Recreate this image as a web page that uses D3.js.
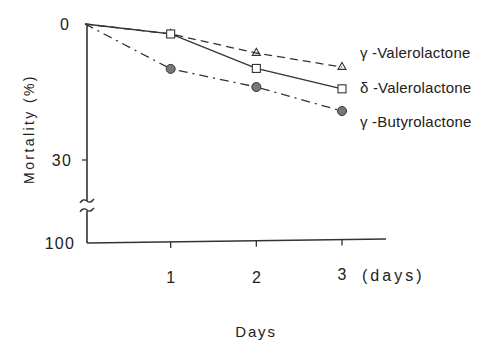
<!DOCTYPE html>
<html><head><meta charset="utf-8">
<script src="https://cdn.jsdelivr.net/npm/d3@7"></script>
<style>body{margin:0;background:#fff;overflow:hidden}svg{display:block}text{font-family:"Liberation Sans",Arial,sans-serif;fill:#222}</style>
</head><body>
<svg id="c" width="478" height="340"></svg>
<script>
const days = [0, 1, 2, 3];
const gammaValero = [0, 2.2, 6.4, 9.5];
const deltaValero = [0, 2.2, 9.8, 14.3];
const gammaButyro = [0, 9.9, 13.9, 19.2];
const seriesNames = ["γ -Valerolactone", "δ -Valerolactone", "γ -Butyrolactone"];
const yTicks = [0, 30, 100];
const xTicks = [1, 2, 3];

const svg = d3.select("#c");
const x = d3.scaleLinear().domain([0, 3]).range([85, 342]);
const y = d3.scaleLinear().domain([0, 30, 100]).range([24, 160, 243]);
const ink = "#333";

// y axis (broken)
svg.append("line").attr("x1", 87).attr("x2", 87).attr("y1", y(0)).attr("y2", 201).attr("stroke", ink).attr("stroke-width", 1.6);
svg.append("line").attr("x1", 87).attr("x2", 87).attr("y1", 211).attr("y2", y(100)).attr("stroke", ink).attr("stroke-width", 1.6);
[202, 211].forEach(yy => {
  svg.append("path").attr("d", `M80,${yy+1} q3,-5 7,-2 q3,3 7,-2`).attr("fill", "none").attr("stroke", ink).attr("stroke-width", 1.4);
});
// x axis
svg.append("line").attr("x1", 87).attr("x2", 386).attr("y1", y(100)).attr("y2", y(100) - 4).attr("stroke", ink).attr("stroke-width", 1.6);
xTicks.forEach(d => {
  const yy = y(100) - (x(d) - 87) * 4 / 299;
  svg.append("line").attr("x1", x(d)).attr("x2", x(d)).attr("y1", yy).attr("y2", yy + 6).attr("stroke", ink).attr("stroke-width", 1.3);
  svg.append("text").attr("x", x(d)).attr("y", d === 3 ? 280 : 283).attr("text-anchor", "middle").attr("font-size", 16).text(d);
});
svg.append("text").attr("x", 362).attr("y", 281).attr("font-size", 16).attr("letter-spacing", 3).text("(days)");
svg.append("text").attr("x", 256).attr("y", 337).attr("text-anchor", "middle").attr("font-size", 15).attr("letter-spacing", 1.8).text("Days");

// y ticks & labels
svg.append("line").attr("x1", 82).attr("x2", 87).attr("y1", y(30)).attr("y2", y(30)).attr("stroke", ink).attr("stroke-width", 1.3);
const yLabX = {0: 70, 30: 72, 100: 75};
yTicks.forEach(d => {
  svg.append("text").attr("x", yLabX[d]).attr("y", y(d) + 6).attr("text-anchor", "end").attr("font-size", 16).attr("letter-spacing", 1.2).text(d);
});
svg.append("text").attr("transform", "translate(34,129) rotate(-90)").attr("text-anchor", "middle").attr("font-size", 14).attr("letter-spacing", 2.4).text("Mortality (%)");

// series
const data = [gammaValero, deltaValero, gammaButyro];
const dashes = ["8,5", null, "9,5,2,5"];
const shapes = ["tri", "sq", "circ"];
const line = d3.line().x((d, i) => x(days[i])).y(d => y(d));
data.forEach((vals, k) => {
  svg.append("path").datum(vals).attr("d", line).attr("fill", "none").attr("stroke", ink).attr("stroke-width", 1.3).attr("stroke-dasharray", dashes[k]);
  vals.forEach((v, i) => {
    if (i === 0) return;
    const cx = x(days[i]), cy = y(v);
    if (shapes[k] === "tri") {
      svg.append("path").attr("d", d3.symbol(d3.symbolTriangle, 28)()).attr("transform", `translate(${cx},${cy})`).attr("fill", "none").attr("stroke", ink).attr("stroke-width", 1.1);
    } else if (shapes[k] === "sq") {
      svg.append("rect").attr("x", cx - 4).attr("y", cy - 4).attr("width", 8).attr("height", 8).attr("fill", "#fff").attr("stroke", ink).attr("stroke-width", 1.1);
    } else {
      svg.append("circle").attr("cx", cx).attr("cy", cy).attr("r", 4.5).attr("fill", "#777").attr("stroke", ink).attr("stroke-width", 1);
    }
  });
  svg.append("text").attr("x", 360).attr("y", [58, 93, 127][k]).attr("font-size", 15).attr("letter-spacing", 0.2).text(seriesNames[k]);
});
</script>
</body></html>
